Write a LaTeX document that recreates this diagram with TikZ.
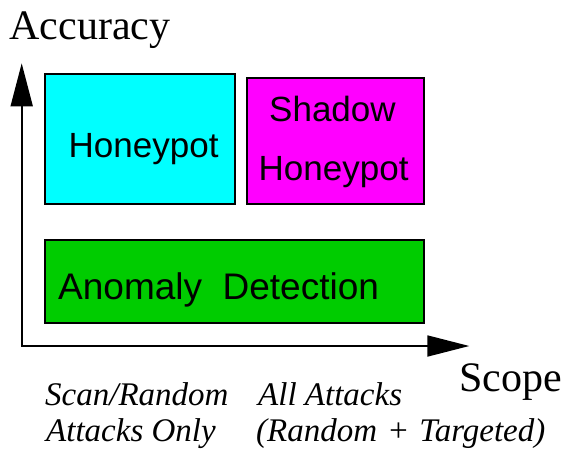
\documentclass[tikz,border=0pt]{standalone}
\usepackage{fontspec}
\setmainfont{Liberation Serif}
\newfontfamily\boxfont{Liberation Sans}
\usetikzlibrary{arrows.meta}

\definecolor{hpcyan}{RGB}{0,255,255}
\definecolor{shmagenta}{RGB}{255,0,255}
\definecolor{adgreen}{RGB}{0,204,0}

\tikzset{
  region/.style={draw=black, line width=1.8pt},
  boxlabel/.style={anchor=base west, inner sep=0pt, font=\boxfont\fontsize{35}{42}\selectfont},
  axislabel/.style={anchor=base west, inner sep=0pt, font=\fontsize{42}{50}\selectfont},
  scopenote/.style={anchor=base west, inner sep=0pt, font=\itshape\fontsize{33}{40}\selectfont},
}

\begin{document}
\begin{tikzpicture}[x=1pt,y=-1pt]

\useasboundingbox (0,0) rectangle (566,451);

\coordinate (o) at (21.7,346);
\coordinate (ytip) at (21.7,63.3);
\coordinate (xtip) at (469.3,346);

\draw[line width=1.8pt, {Triangle[length=43pt,width=22pt]}-{Triangle[length=42pt,width=21pt]}]
    (ytip) -- (o) -- (xtip);

\draw[region, fill=hpcyan] (45,74) rectangle (235,204);
\draw[region, fill=shmagenta] (246.7,78.3) rectangle (424,204.3);
\draw[region, fill=adgreen] (45,240) rectangle (424,323);

\node[boxlabel] (honeypot) at (68.5,157) {Honeypot};
\node[boxlabel] (shadow) at (269,121.7) {Shadow};
\node[boxlabel] (shadowhp) at (258.5,180) {Honeypot};
\node[boxlabel, font=\boxfont\fontsize{37}{44}\selectfont] (anomaly) at (58,299.3) {Anomaly\ \ Detection};

\node[axislabel] (accuracy) at (9.4,39.3) {Accuracy};
\node[axislabel] (scope) at (459,391) {Scope};

\node[scopenote] (scan) at (45,405) {Scan/Random};
\node[scopenote] (scanonly) at (46,441.7) {Attacks Only};
\node[scopenote] (all) at (258,405) {All Attacks};
\node[scopenote] (alltypes) at (256,441.7) {(Random\hspace{10pt}+\hspace{10pt}Targeted)};

\end{tikzpicture}
\end{document}
